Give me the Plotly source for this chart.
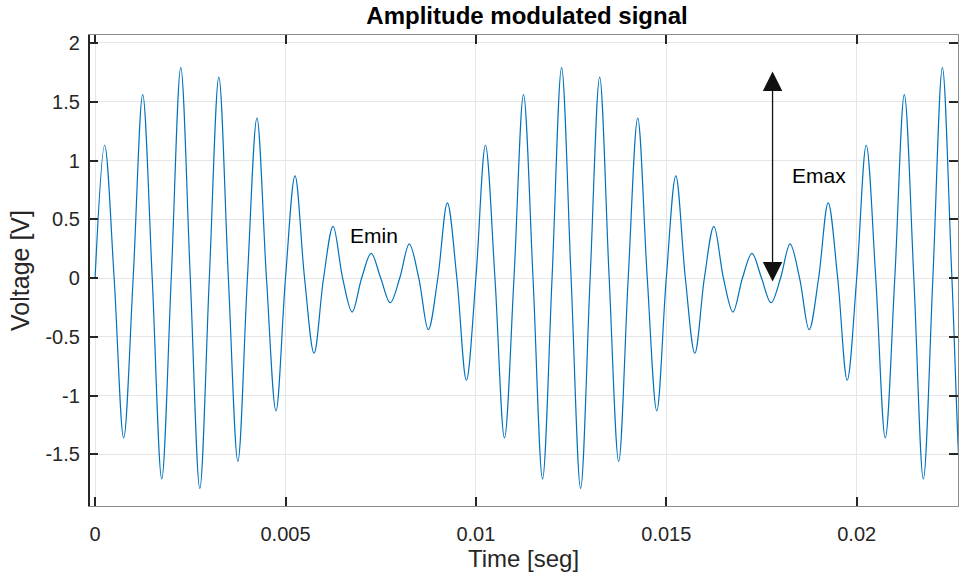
import plotly.graph_objects as go

# Extrema (one per carrier half-cycle)
peak_t = [0.00025, 0.00075, 0.00125, 0.00175, 0.00225, 0.00275, 0.00325, 0.00375, 0.00425, 0.00475,
          0.00525, 0.00575, 0.00625, 0.00675, 0.00725, 0.00775, 0.00825, 0.00875, 0.00925, 0.00975,
          0.01025, 0.01075, 0.01125, 0.01175, 0.01225, 0.01275, 0.01325, 0.01375, 0.01425, 0.01475,
          0.01525, 0.01575, 0.01625, 0.01675, 0.01725, 0.01775, 0.01825, 0.01875, 0.01925, 0.01975,
          0.02025, 0.02075, 0.02125, 0.02175, 0.02225, 0.02275]
peak_v = [1.13, -1.36, 1.56, -1.71, 1.79, -1.79, 1.71, -1.56, 1.36, -1.13,
          0.87, -0.64, 0.44, -0.29, 0.21, -0.21, 0.29, -0.44, 0.64, -0.87,
          1.13, -1.36, 1.56, -1.71, 1.79, -1.79, 1.71, -1.56, 1.36, -1.13,
          0.87, -0.64, 0.44, -0.29, 0.21, -0.21, 0.29, -0.44, 0.64, -0.87,
          1.13, -1.36, 1.56, -1.71, 1.79, -1.79]
# Zero crossings
zero_t = [0.0, 0.0005, 0.001, 0.0015, 0.002, 0.0025, 0.003, 0.0035, 0.004, 0.0045,
          0.005, 0.0055, 0.006, 0.0065, 0.007, 0.0075, 0.008, 0.0085, 0.009, 0.0095,
          0.01, 0.0105, 0.011, 0.0115, 0.012, 0.0125, 0.013, 0.0135, 0.014, 0.0145,
          0.015, 0.0155, 0.016, 0.0165, 0.017, 0.0175, 0.018, 0.0185, 0.019, 0.0195,
          0.02, 0.0205, 0.021, 0.0215, 0.022, 0.0225, 0.023]

x_tickvals = [0, 0.005, 0.01, 0.015, 0.02]
x_ticktext = ["0", "0.005", "0.01", "0.015", "0.02"]
y_tickvals = [-1.5, -1, -0.5, 0, 0.5, 1, 1.5, 2]
y_ticktext = ["-1.5", "-1", "-0.5", "0", "0.5", "1", "1.5", "2"]

title_text = "Amplitude modulated signal"
x_title = "Time [seg]"
y_title = "Voltage [V]"

pts = sorted([(t, 0.0) for t in zero_t] + list(zip(peak_t, peak_v)))
t_all = [p[0] for p in pts]
v_all = [p[1] for p in pts]

fig = go.Figure()
fig.add_trace(go.Scatter(x=t_all, y=v_all, mode="lines",
                         line=dict(color="#0072BD", width=1.2, shape="spline", smoothing=1),
                         showlegend=False, hoverinfo="skip"))

FONT = "Liberation Sans, Arial, Helvetica, sans-serif"
TXT = "#262626"

fig.update_layout(
    width=960, height=581,
    margin=dict(l=89, r=2, t=35, b=75),
    paper_bgcolor="white", plot_bgcolor="white",
    font=dict(family=FONT, color=TXT, size=20),
    title=dict(text="<b>" + title_text + "</b>", x=527 / 960, xref="container", xanchor="center",
               y=1 - 16 / 581, yref="container", yanchor="middle",
               font=dict(family=FONT, size=24, color="#000")),
    xaxis=dict(range=[-0.00016, 0.02266], tickvals=x_tickvals, ticktext=x_ticktext,
               showgrid=True, gridcolor="#e6e6e6", gridwidth=1, zeroline=False,
               showline=True, linecolor="#8c8c8c", linewidth=1.3, mirror="ticks",
               ticks="inside", ticklen=9, tickwidth=1.5, tickcolor=TXT,
               ticklabelstandoff=10,
               title=dict(text=x_title, font=dict(size=24, color=TXT), standoff=6)),
    yaxis=dict(range=[-1.94, 2.068], tickvals=y_tickvals, ticktext=y_ticktext,
               showgrid=True, gridcolor="#e6e6e6", gridwidth=1, zeroline=False,
               showline=True, linecolor="#8c8c8c", linewidth=1.3, mirror="ticks",
               ticks="inside", ticklen=9, tickwidth=1.5, tickcolor=TXT,
               ticklabelstandoff=4,
               title=dict(text=y_title, font=dict(size=25, color=TXT), standoff=8)),
)

# dark left axis line
fig.add_shape(type="line", xref="paper", yref="paper", x0=0, x1=0, y0=0, y1=1,
              line=dict(color=TXT, width=2))

# double-headed arrow
fig.add_annotation(x=0.01779, y=-0.03, ax=0.01779, ay=1.77, xref="x", yref="y",
                   axref="x", ayref="y", text="", showarrow=True,
                   arrowhead=2, startarrowhead=2, arrowside="end+start",
                   arrowsize=3, startarrowsize=3, arrowwidth=1.3, arrowcolor="#111")
fig.add_annotation(x=0.00733, y=0.363, xref="x", yref="y", text="Emin", showarrow=False,
                   font=dict(size=21, color="#000"))
fig.add_annotation(x=0.0190, y=0.874, xref="x", yref="y", text="Emax", showarrow=False,
                   font=dict(size=21, color="#000"))

fig.write_html("out.html")
